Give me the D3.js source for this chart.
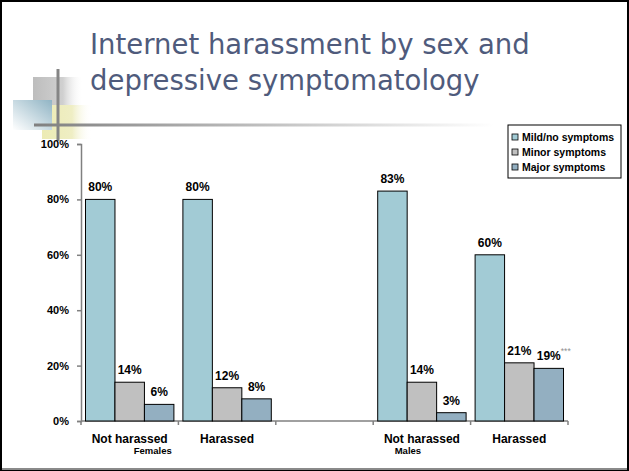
<!DOCTYPE html>
<html>
<head>
<meta charset="utf-8" />
<title>Internet harassment by sex and depressive symptomatology</title>
<script src="https://d3js.org/d3.v7.min.js"></script>
<style>
  body, html { margin: 0; padding: 0; background: #ffffff; }
  svg { display: block; }
  .lbl { font-family: 'Liberation Sans', Arial, sans-serif; font-weight: bold; fill: #000; }
</style>
</head>
<body>
<svg id="viz"></svg>
<script>
// chart data
var groupKeys = ["f-not", "f-har", "gap", "m-not", "m-har"];
var categoryLabels = ["Not harassed", "Harassed", "", "Not harassed", "Harassed"];
var sexLabels = ["Females", "Males"];
var seriesNames = ["Mild/no symptoms", "Minor symptoms", "Major symptoms"];
var mild = [80, 80, null, 83, 60];
var minor = [14, 12, null, 14, 21];
var major = [6, 8, null, 3, 19];
var yTicks = [0, 20, 40, 60, 80, 100];

var W = 629, H = 471;
var colors = ["#a2cbd5", "#c0c0c0", "#93afc1"];

var svg = d3.select("#viz").attr("width", W).attr("height", H);
var defs = svg.append("defs");

function grad(id, x1, y1, x2, y2, stops) {
  var g = defs.append("linearGradient").attr("id", id)
    .attr("x1", x1).attr("y1", y1).attr("x2", x2).attr("y2", y2);
  stops.forEach(function(s) {
    g.append("stop").attr("offset", s[0]).attr("stop-color", s[1]).attr("stop-opacity", s[2]);
  });
}
grad("gLine", 0, 0, 1, 0, [[0, "#808080", 1], [1, "#ffffff", 1]]);
grad("gGray", 0, 0, 1, 0, [[0, "#bdbdbd", 1], [0.6, "#d0d0d0", 1], [1, "#ffffff", 0]]);
grad("gYel", 0, 0, 1, 0, [[0, "#ecebb4", 1], [0.6, "#efeec4", 1], [1, "#ffffff", 0]]);
grad("gBlue", 1, 0, 0, 1, [[0, "#90b4c4", 1], [1, "#ffffff", 1]]);

// slide frame
svg.append("rect").attr("x", 1).attr("y", 1).attr("width", W - 2).attr("height", H - 2)
  .attr("fill", "#fff").attr("stroke", "#000").attr("stroke-width", 2);
svg.append("line").attr("x1", 2).attr("x2", W - 2).attr("y1", H - 2).attr("y2", H - 2)
  .attr("stroke", "#8a8a8a").attr("stroke-width", 2);

// decoration
svg.append("rect").attr("x", 33).attr("y", 77).attr("width", 50).attr("height", 30).attr("fill", "url(#gGray)");
svg.append("rect").attr("x", 42).attr("y", 105).attr("width", 50).attr("height", 34).attr("fill", "url(#gYel)");
svg.append("rect").attr("x", 13).attr("y", 100).attr("width", 39).attr("height", 30).attr("fill", "url(#gBlue)");
svg.append("rect").attr("x", 34).attr("y", 123.5).attr("width", 460).attr("height", 3).attr("fill", "url(#gLine)");
svg.append("rect").attr("x", 56.5).attr("y", 69).attr("width", 3).attr("height", 72).attr("fill", "#858585");

// title
var title = svg.append("text").attr("fill", "#4f5b7c")
  .attr("font-family", "'DejaVu Sans', sans-serif").attr("font-size", 27.5);
title.append("tspan").attr("x", 90).attr("y", 54).text("Internet harassment by sex and");
title.append("tspan").attr("x", 90).attr("y", 90).text("depressive symptomatology");

// scales
var x = d3.scaleBand().domain(groupKeys).range([81, 568]);
var xs = d3.scaleBand().domain(seriesNames).range([4.5, x.bandwidth() - 4.5]);
var y = d3.scaleLinear().domain([0, 100]).range([421, 144]);

// axes
var yAxis = svg.append("g").attr("transform", "translate(81,0)")
  .call(d3.axisLeft(y).tickValues(yTicks).tickSize(4).tickFormat(function(d) { return d + "%"; }));
yAxis.select(".domain").attr("stroke", "#808080").attr("stroke-width", 1.5);
yAxis.selectAll(".tick line").attr("stroke", "#808080").attr("stroke-width", 1.5);
yAxis.selectAll(".tick text").attr("class", "lbl").attr("font-size", 11).attr("x", -12)
  .attr("fill", "#000");

var xAxis = svg.append("g").attr("transform", "translate(0,421)");
xAxis.append("line").attr("x1", 81).attr("x2", 568).attr("stroke", "#808080").attr("stroke-width", 1.5);
xAxis.selectAll("line.tk").data(groupKeys.concat(["end"])).enter().append("line")
  .attr("class", "tk")
  .attr("x1", function(d, i) { return i < groupKeys.length ? x(d) : x.range()[1]; })
  .attr("x2", function(d, i) { return i < groupKeys.length ? x(d) : x.range()[1]; })
  .attr("y1", 0).attr("y2", 4).attr("stroke", "#808080").attr("stroke-width", 1.5);

svg.selectAll("text.cat").data(categoryLabels).enter().append("text")
  .attr("class", "cat lbl").attr("font-size", 12).attr("text-anchor", "middle")
  .attr("x", function(d, i) { return x(groupKeys[i]) + x.bandwidth() / 2; })
  .attr("y", 443).text(function(d) { return d; });

svg.append("text").attr("class", "lbl").attr("font-size", 9.5).attr("text-anchor", "middle")
  .attr("x", x("f-not") + x.bandwidth() / 2 + 23).attr("y", 454).text(sexLabels[0]);
svg.append("text").attr("class", "lbl").attr("font-size", 9.5).attr("text-anchor", "middle")
  .attr("x", x("m-not") + x.bandwidth() / 2 - 14).attr("y", 454).text(sexLabels[1]);

// bars
var series = [mild, minor, major];
series.forEach(function(vals, si) {
  var pts = vals.map(function(v, i) { return { key: groupKeys[i], v: v }; })
    .filter(function(d) { return d.v !== null; });
  svg.selectAll("rect.s" + si).data(pts).enter().append("rect")
    .attr("class", "s" + si)
    .attr("x", function(d) { return x(d.key) + xs(seriesNames[si]); })
    .attr("width", xs.bandwidth())
    .attr("y", function(d) { return y(d.v); })
    .attr("height", function(d) { return y(0) - y(d.v); })
    .attr("fill", colors[si]).attr("stroke", "#000").attr("stroke-width", 1);
  svg.selectAll("text.v" + si).data(pts).enter().append("text")
    .attr("class", "v" + si + " lbl").attr("font-size", 12).attr("text-anchor", "middle")
    .attr("x", function(d) { return x(d.key) + xs(seriesNames[si]) + xs.bandwidth() / 2; })
    .attr("y", function(d) { return y(d.v) - 8; })
    .text(function(d) { return d.v + "%"; });
});

// significance mark
svg.append("text").attr("font-family", "'Liberation Sans', Arial, sans-serif")
  .attr("font-size", 8.5).attr("fill", "#909090")
  .attr("x", x("m-har") + xs(seriesNames[2]) + xs.bandwidth() / 2 + 12)
  .attr("y", y(major[4]) - 14).text("***");

// legend
var lg = svg.append("g").attr("transform", "translate(508,125)");
lg.append("rect").attr("width", 113).attr("height", 53).attr("fill", "#fff")
  .attr("stroke", "#000").attr("stroke-width", 1);
seriesNames.forEach(function(n, i) {
  lg.append("rect").attr("x", 4).attr("y", 9 + i * 15).attr("width", 6).attr("height", 6)
    .attr("fill", colors[i]).attr("stroke", "#000").attr("stroke-width", 0.8);
  lg.append("text").attr("class", "lbl").attr("font-size", 10.5).attr("x", 14).attr("y", 15.5 + i * 15).text(n);
});
</script>
</body>
</html>
